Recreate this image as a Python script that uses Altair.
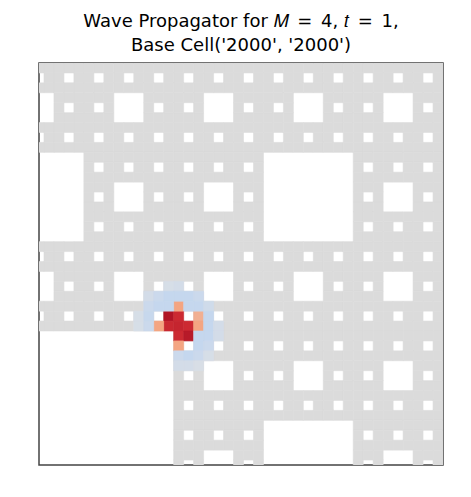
import altair as alt
import pandas as pd

# View window of the level-4 Sierpinski carpet (81 x 81 cells)
M = 4
col_range = list(range(40, 81))   # visible columns (view starts at 40.5)
row_range = list(range(0, 41))    # visible rows (view ends at 40.5)

# Propagator values (row, col, value)
heat_rows = [25, 25, 26, 26, 26, 27, 27, 24, 25, 26, 26, 28,
             22, 22, 23, 23, 23, 23, 23, 23,
             24, 24, 24, 24, 24, 24,
             25, 25, 25, 26, 26, 26, 26,
             27, 27, 27, 28, 28,
             29, 29, 29, 29, 30, 30, 30]
heat_cols = [53, 54, 53, 54, 55, 54, 55, 54, 56, 52, 56, 54,
             53, 54, 51, 52, 53, 54, 55, 56,
             51, 52, 53, 55, 56, 57,
             50, 51, 57, 50, 51, 57, 58,
             56, 57, 58, 56, 57,
             54, 55, 56, 57, 54, 55, 56]
heat_vals = [1.0, 0.8, 0.82, 0.85, 0.8, 0.8, 0.95, 0.3, 0.25, 0.3, 0.3, 0.3,
             -0.06, -0.08, -0.08, -0.12, -0.15, -0.15, -0.15, -0.12,
             -0.12, -0.15, -0.15, -0.15, -0.15, -0.1,
             -0.06, -0.14, -0.15, -0.06, -0.12, -0.15, -0.08,
             -0.15, -0.15, -0.08, -0.15, -0.12,
             -0.12, -0.15, -0.12, -0.06, -0.08, -0.08, -0.05]


def in_carpet(r, c):
    for _ in range(M):
        if r % 3 == 1 and c % 3 == 1:
            return False
        r //= 3
        c //= 3
    return True


carpet = pd.DataFrame(
    [{"col": c, "col2": c + 1, "row": r, "row2": r + 1}
     for r in row_range for c in col_range if in_carpet(r, c)]
)
heat = pd.DataFrame({"row": heat_rows, "col": heat_cols, "value": heat_vals})
heat = heat[[in_carpet(r, c) for r, c in zip(heat.row, heat.col)]]
heat["col2"] = heat["col"] + 1
heat["row2"] = heat["row"] + 1

xs = alt.Scale(domain=[40.5, 81], nice=False, zero=False)
ys = alt.Scale(domain=[0, 40.5], nice=False, zero=False, reverse=True)

heat_scale = alt.Scale(
    domain=[-0.15, 0, 0.3, 0.8, 1.0],
    range=["#c5d7ee", "#e2e2e2", "#f4a582", "#cc2a32", "#b01526"],
    interpolate="rgb",
)

base_layer = alt.Chart(carpet).mark_rect(
    color="#dbdbdb", stroke="#dbdbdb", strokeWidth=0.6, clip=True
).encode(
    x=alt.X("col:Q", scale=xs, axis=None),
    x2="col2:Q",
    y=alt.Y("row:Q", scale=ys, axis=None),
    y2="row2:Q",
)

heat_layer = alt.Chart(heat).mark_rect(strokeWidth=0.6, clip=True).encode(
    x=alt.X("col:Q", scale=xs, axis=None),
    x2="col2:Q",
    y=alt.Y("row:Q", scale=ys, axis=None),
    y2="row2:Q",
    color=alt.Color("value:Q", scale=heat_scale, legend=None),
    stroke=alt.Stroke("value:Q", scale=heat_scale, legend=None),
)

chart = (
    alt.layer(base_layer, heat_layer)
    .properties(
        width=404,
        height=402,
        autosize="none",
        padding={"left": 31, "top": 55, "right": 20, "bottom": 16},
        title=alt.TitleParams(
            text=["Wave Propagator for 𝑀 \u2006=\u2006 4, 𝑡 \u2006=\u2006 1,",
                  "Base Cell('2000', '2000')"],
            font="DejaVu Sans",
            fontSize=18,
            fontWeight="normal",
            color="#000000",
            anchor="middle",
            lineHeight=24,
            offset=8,
        ),
    )
    .configure_view(stroke="#444444", strokeWidth=1.5)
)

chart.save("out.html", embed_options={"renderer": "svg", "actions": False})
